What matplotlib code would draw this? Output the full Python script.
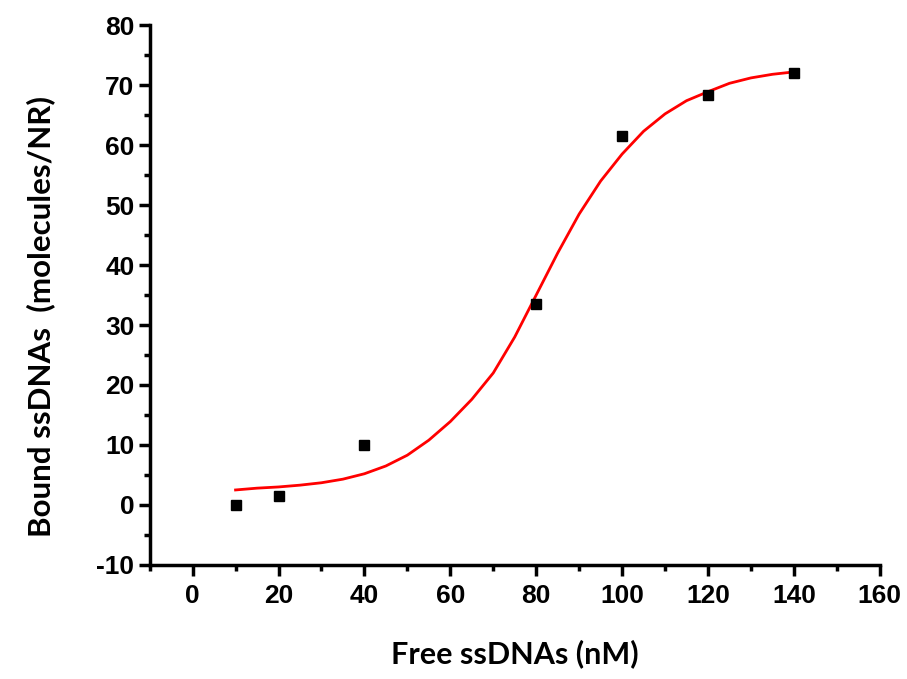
import matplotlib.pyplot as plt
from matplotlib.ticker import MultipleLocator

plt.rcParams['font.family'] = ['Liberation Sans', 'DejaVu Sans']
plt.rcParams['font.weight'] = 'bold'
plt.rcParams['axes.unicode_minus'] = False

# measured points
free_nm = [10, 20, 40, 80, 100, 120, 140]
bound = [0.0, 1.5, 10.0, 33.5, 61.5, 68.3, 72.0]

# fitted curve, every 5 nM
fit_x = [10, 15, 20, 25, 30, 35, 40, 45, 50, 55, 60, 65, 70, 75, 80,
         85, 90, 95, 100, 105, 110, 115, 120, 125, 130, 135, 140]
fit_y = [2.5, 2.8, 3.0, 3.3, 3.7, 4.3, 5.2, 6.5, 8.3, 10.8, 13.9, 17.6, 22.0,
         28.0, 35.0, 42.0, 48.5, 54.0, 58.5, 62.3, 65.2, 67.4, 68.9, 70.3,
         71.2, 71.8, 72.2]

xticks = [0, 20, 40, 60, 80, 100, 120, 140, 160]

fig = plt.figure(figsize=(9.07, 6.79), dpi=100)
ax = fig.add_axes([0.165, 0.168, 0.805, 0.795])

ax.plot(fit_x, fit_y, color='red', lw=2, zorder=2)
ax.plot(free_nm, bound, 's', color='black', ms=7, zorder=3)

ax.set_xlim(-10, 160)
ax.set_ylim(-10, 80)
ax.set_xticks(xticks)
ax.xaxis.set_minor_locator(MultipleLocator(10))
ax.yaxis.set_major_locator(MultipleLocator(10))
ax.yaxis.set_minor_locator(MultipleLocator(5))

for s in ['top', 'right']:
    ax.spines[s].set_visible(False)
for s in ['left', 'bottom']:
    ax.spines[s].set_linewidth(2.5)

ax.tick_params(which='major', direction='out', length=8, width=2.5)
ax.tick_params(which='minor', direction='out', length=4, width=2.5)
ax.tick_params(axis='y', labelsize=19, pad=3)
ax.tick_params(axis='x', labelsize=19, pad=6)

ax.set_xlabel('Free ssDNAs (nM)', fontsize=22, fontfamily='Lato',
              fontweight='bold', labelpad=22)
ax.set_ylabel('Bound ssDNAs  (molecules/NR)', fontsize=22.5, fontfamily='Lato',
              fontweight='bold', labelpad=30)
ax.yaxis.label.set_y(0.46)

plt.savefig('out.png')
